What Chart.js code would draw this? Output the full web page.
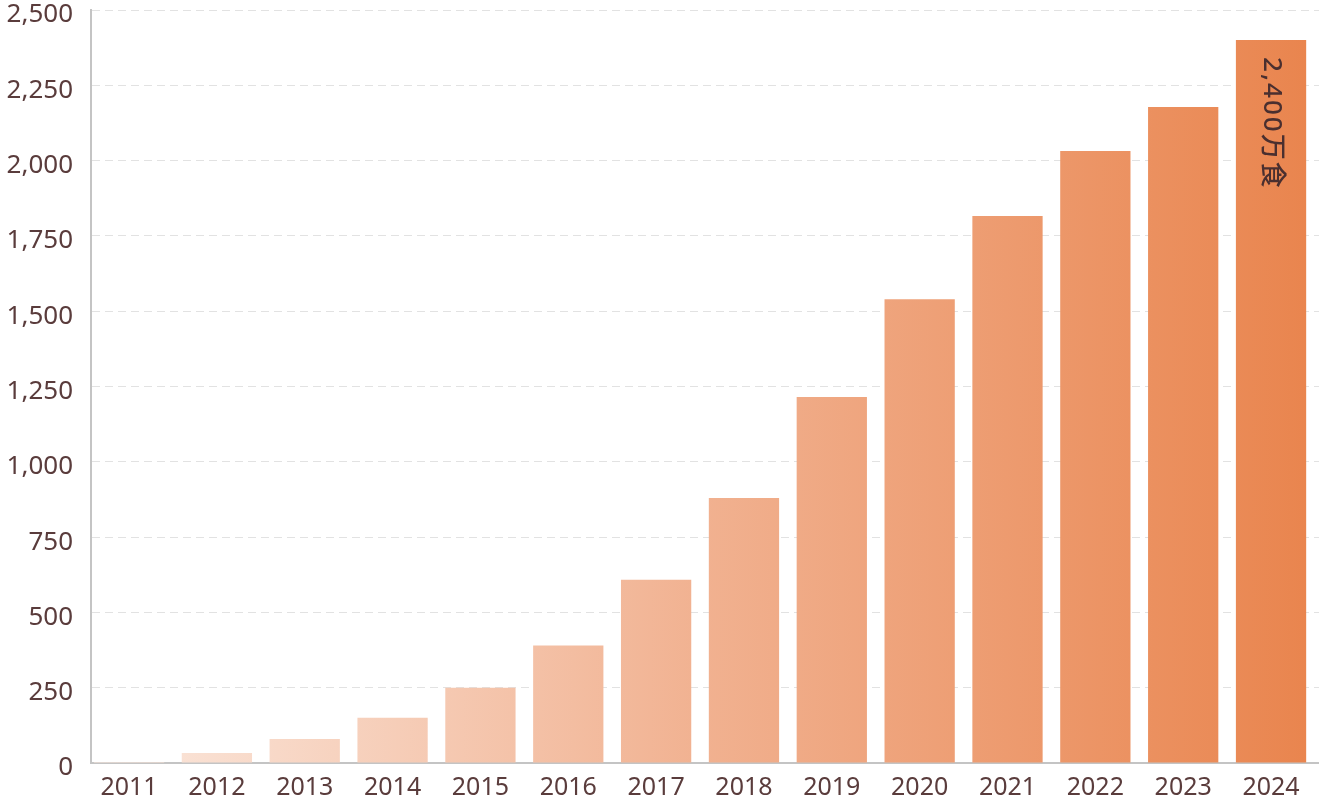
<!DOCTYPE html>
<html>
<head>
<meta charset="utf-8">
<script src="https://cdn.jsdelivr.net/npm/chart.js@4"></script>
<style>
  html, body { margin: 0; padding: 0; background: #fff; }
  #wrap { width: 1319px; height: 799px; }
</style>
</head>
<body>
<div id="wrap"><canvas id="mealsChart"></canvas></div>
<script>
// years and meals served (unit: 万食)
const years = ["2011", "2012", "2013", "2014", "2015", "2016", "2017", "2018", "2019", "2020", "2021", "2022", "2023", "2024"];
const meals = [3, 33, 80, 150, 250, 390, 608, 880, 1215, 1540, 1816, 2032, 2178, 2400];
const yTicks = [0, 250, 500, 750, 1000, 1250, 1500, 1750, 2000, 2250, 2500];
const lastLabel = "2,400万食";

const textColor = "#5a3c3c";
const fontFamily = "'Noto Sans', 'Noto Sans CJK JP', sans-serif";

// horizontal gradient across the plot area, light peach -> orange
function barGradient(context) {
  const chart = context.chart;
  const area = chart.chartArea;
  if (!area) return "#f0a57c";
  const g = chart.ctx.createLinearGradient(area.left, 0, area.right, 0);
  g.addColorStop(0, "#fbe9df");
  g.addColorStop(0.5, "#f1b190");
  g.addColorStop(1, "#e9844d");
  return g;
}

// vertical label inside the last bar
const lastBarLabel = {
  id: "lastBarLabel",
  afterDatasetsDraw(chart) {
    const ctx = chart.ctx;
    const i = meals.length - 1;
    const x = chart.scales.x.getPixelForValue(Number(years[i]));
    const y = chart.scales.y.getPixelForValue(meals[i]);
    ctx.save();
    ctx.translate(x, y + 17);
    ctx.rotate(Math.PI / 2);
    ctx.fillStyle = "#4a2f2f";
    ctx.font = "500 26px " + fontFamily;
    ctx.letterSpacing = "2px";
    ctx.textAlign = "left";
    ctx.textBaseline = "middle";
    ctx.fillText(lastLabel, 0, 0);
    ctx.restore();
  }
};

const points = years.map((yr, i) => ({ x: Number(yr), y: meals[i] }));

const ctx = document.getElementById("mealsChart").getContext("2d");
const mealsChart = new Chart(ctx, {
  type: "bar",
  data: {
    datasets: [
      {
        data: points,
        backgroundColor: barGradient,
        borderWidth: 0,
        barPercentage: 0.8,
        categoryPercentage: 1.0,
      },
    ],
  },
  options: {
    responsive: true,
    maintainAspectRatio: false,
    animation: false,
    layout: { padding: { top: 10, right: 0, left: 0, bottom: 0 } },
    plugins: {
      legend: { display: false },
      tooltip: { enabled: false },
    },
    scales: {
      x: {
        type: "linear",
        offset: false,
        min: 2010.567,
        max: 2024.546,
        afterBuildTicks(scale) {
          scale.ticks = years.map((yr) => ({ value: Number(yr) }));
        },
        grid: { display: false, drawTicks: false, offset: false },
        border: { display: true, color: "#c4c4c4", width: 2 },
        ticks: {
          color: textColor,
          font: { family: fontFamily, size: 25 },
          padding: 10,
          maxRotation: 0,
          autoSkip: false,
          callback: (v) => String(v),
        },
        afterFit(scale) {
          scale.height = 36;
          scale.paddingLeft = 0;
          scale.paddingRight = 0;
        },
      },
      y: {
        min: 0,
        max: 2500,
        afterBuildTicks(scale) {
          scale.ticks = yTicks.map((v) => ({ value: v }));
        },
        grid: {
          color: "#e2e2e2",
          lineWidth: 1,
          drawTicks: false,
        },
        border: { display: true, color: "#c4c4c4", width: 2, dash: [8, 5] },
        ticks: {
          color: textColor,
          font: { family: fontFamily, size: 26 },
          padding: 18,
          labelOffset: 5,
          callback: (v) => v.toLocaleString("en-US"),
        },
        afterFit(scale) {
          scale.width = 91;
          scale.paddingTop = 0;
          scale.paddingBottom = 0;
        },
      },
    },
  },
  plugins: [lastBarLabel],
});
</script>
</body>
</html>
